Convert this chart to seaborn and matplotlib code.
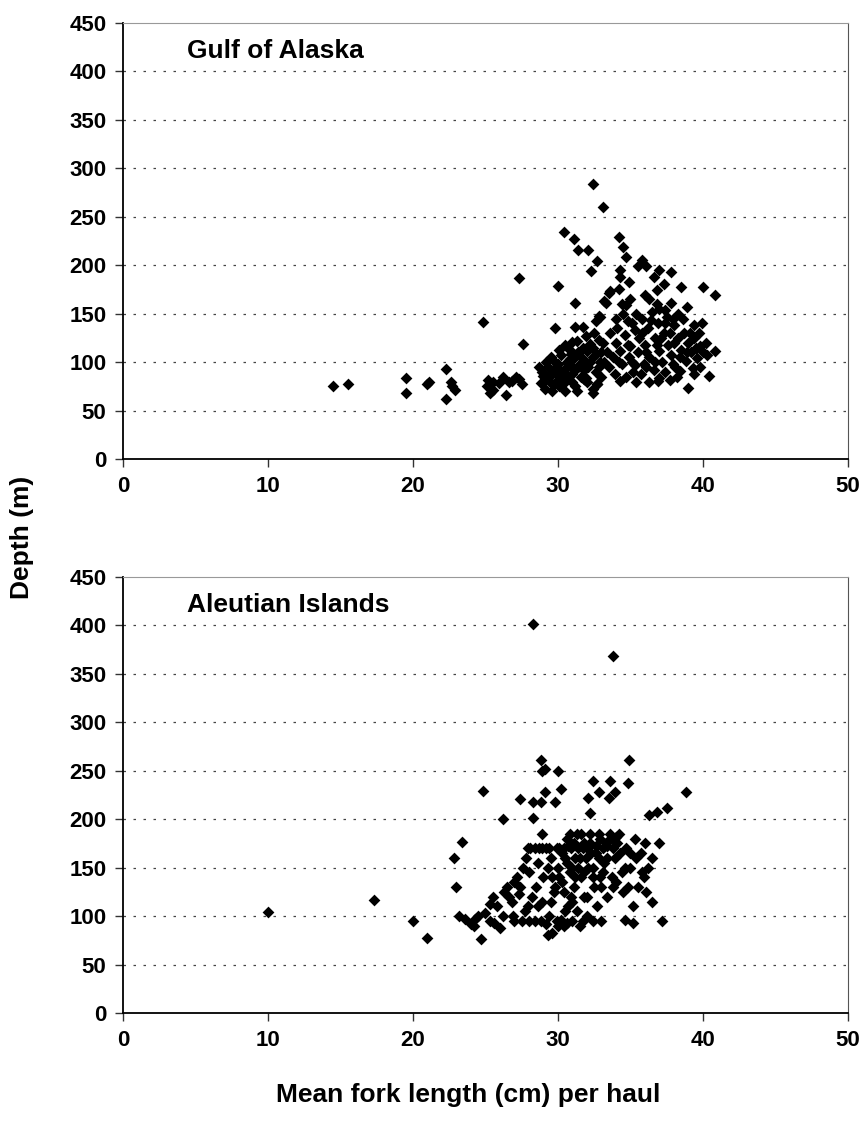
import numpy as np
import pandas as pd
import seaborn as sns
import matplotlib.pyplot as plt

# Gulf of Alaska: mean fork length (cm) and depth (m) per haul
goa_length = [
    14.5, 15.5, 19.5, 19.5, 21.1, 21.0, 22.3, 22.6, 22.9, 22.3, 22.7,
    24.8, 25.1, 25.3, 25.5, 25.9, 25.5, 25.2, 26.2, 26.4, 26.8, 27.1, 27.5, 26.6, 27.3,
    27.3, 27.6,
    28.7, 28.9, 29.0, 29.1, 29.2, 29.4, 29.5, 29.6, 29.7, 29.8, 29.9, 30.0, 30.1, 30.2,
    30.3, 30.4, 30.5, 30.6, 30.7, 30.8, 30.9, 31.0, 31.1, 31.2, 31.3, 31.4, 31.5, 31.6,
    31.8, 31.9, 32.0, 32.1, 32.2, 32.4, 32.4, 32.6, 32.7, 32.8, 32.9, 33.0,
    29.8, 30.0, 30.4, 31.1, 31.4, 32.1, 32.7, 32.3, 31.2, 32.4, 33.1, 31.7, 31.2, 31.0,
    33.3, 33.6, 32.9, 32.6, 32.8, 33.2, 31.8, 32.4, 32.7,
    34.2, 34.5, 34.7, 34.3, 34.3, 34.2, 34.9, 35.8, 35.5, 36.1, 36.6, 37.0, 37.8, 37.3,
    36.8, 38.5, 40.0, 40.8, 36.0, 34.7, 33.5, 38.9, 38.3, 37.8, 37.4, 39.4, 39.9, 40.8,
    40.3, 39.8, 40.4, 39.0, 38.4, 39.3, 39.4, 37.7, 37.0, 36.3, 34.3, 31.9,
    33.5, 33.8, 34.0, 34.1, 34.3, 34.4, 34.6, 34.8, 34.9, 35.0, 35.2, 35.3, 35.5, 35.6,
    35.8, 35.9, 36.0, 36.2, 36.3, 36.5, 36.6, 36.7, 36.9, 37.0, 37.2, 37.3, 37.5, 37.6,
    37.8, 38.0, 38.1, 38.3, 38.5, 38.7, 38.8, 39.0, 39.2, 39.4, 39.6, 39.8, 40.0, 34.5,
    35.1, 36.8, 37.9, 35.7, 36.1, 37.4, 33.9, 34.7, 35.4, 36.9, 38.2,
    29.3, 29.5, 29.8, 30.0, 30.2, 30.4, 30.6, 30.8, 31.0, 31.2, 31.4, 31.6, 31.8, 32.0,
    32.2, 32.4, 32.6, 32.8, 33.0, 33.2, 30.5, 31.3, 31.9, 30.9, 29.0, 28.8, 29.6, 30.1,
    32.5, 33.1, 33.4, 31.7,
    33.6, 34.0, 34.4, 34.8, 35.1, 35.4, 35.8, 36.1, 36.4, 36.7, 37.1, 37.4, 37.7, 38.0,
    38.4, 38.6, 39.1, 39.5, 39.7, 40.2, 35.0, 36.3, 37.0, 34.2, 35.3, 36.8, 37.9, 38.9,
]
goa_depth = [
    75, 77, 84, 68, 79, 77, 93, 80, 71, 62, 75,
    141, 75, 68, 80, 78, 71, 82, 85, 66, 81, 85, 77, 79, 83,
    187, 119,
    95, 90, 80, 72, 100, 85, 105, 70, 93, 78, 88, 98, 75, 107,
    83, 92, 70, 100, 86, 113, 96, 80, 104, 92, 70, 110, 98, 85,
    83, 100, 112, 95, 119, 72, 105, 90, 77, 123, 100, 110,
    135, 179, 234, 227, 216, 216, 204, 194, 161, 284, 260, 136, 136, 121,
    161, 173, 147, 142, 148, 163, 83, 68, 77,
    229, 219, 209, 195, 188, 176, 183, 205, 199, 199, 188, 195, 193, 181,
    174, 178, 178, 169, 169, 159, 171, 157, 150, 161, 154, 138, 140, 112,
    107, 117, 86, 73, 91, 94, 88, 82, 84, 79, 81, 84,
    95, 105, 120, 135, 112, 98, 128, 142, 105, 117, 90, 133, 110, 125,
    145, 98, 118, 135, 105, 152, 92, 125, 140, 112, 100, 130, 147, 118,
    107, 138, 95, 125, 113, 130, 101, 120, 110, 125, 104, 95, 110, 150,
    140, 160, 145, 88, 95, 90, 88, 85, 80, 81, 85,
    95, 88, 100, 82, 90, 78, 95, 103, 88, 75, 95, 105, 92, 80,
    100, 115, 108, 95, 85, 100, 118, 122, 127, 108, 86, 78, 77, 113,
    130, 120, 110, 115,
    130, 145, 160, 118, 100, 150, 130, 110, 143, 100, 125, 140, 130, 120,
    105, 145, 130, 115, 130, 120, 165, 165, 155, 100, 97, 118, 98, 110,
]

# Aleutian Islands
ai_length = [
    10.0, 17.3, 20.0, 21.0,
    22.8, 23.0, 23.4, 23.2, 23.6, 24.0, 24.2, 24.5, 24.7, 24.8, 25.0, 25.3, 25.6, 25.8,
    26.0, 25.5, 26.2, 26.3, 26.5, 26.8, 27.0, 27.2, 27.4, 27.5, 27.3, 27.6, 27.8, 27.9,
    28.0, 28.1, 28.3, 28.3, 28.3, 28.4, 28.5, 28.6, 28.7, 28.8, 28.8, 28.9, 29.1, 29.1,
    28.9, 29.0, 29.2, 29.3, 29.5, 29.6, 29.7, 29.8, 29.9, 30.0, 30.0, 30.1, 30.2, 30.3,
    30.4, 30.5, 30.6, 30.7, 30.8, 30.9, 31.0, 31.1, 31.2, 31.3, 31.4, 31.5, 31.6, 31.7,
    31.8, 31.9, 32.0, 32.1, 32.2, 32.2, 32.4, 32.4, 32.5, 32.6, 32.8, 32.8, 32.9, 33.0,
    33.1, 33.2, 33.4, 33.5, 33.6, 33.6, 33.8, 33.9, 33.9, 34.0, 34.2, 34.5, 34.6, 34.8,
    34.9, 34.7, 35.0, 35.2, 35.3, 35.5, 35.7, 35.9, 36.1, 36.3, 36.5, 36.5, 36.8, 37.0,
    37.2, 37.5, 38.8, 29.4, 30.2, 31.3, 26.9, 27.7, 29.6, 30.9, 31.8, 30.4, 31.1, 32.3,
    33.3, 34.1, 33.7, 32.7, 34.4,
    27.9, 28.4, 28.9, 29.4, 29.9, 30.4, 30.7, 31.4, 32.0, 32.6, 33.4, 33.8,
    27.0, 28.0, 28.8, 30.6, 31.7, 32.4, 29.2, 30.0,
    30.3, 30.6, 31.0, 31.2, 31.5, 31.8, 32.1, 32.4, 32.8, 33.1, 33.4, 33.6, 34.0, 34.3,
    34.6, 35.0, 35.4, 35.8, 30.8, 31.6, 32.2, 32.9, 29.8, 30.1, 28.2, 28.6, 27.4, 26.6,
    29.3, 28.9, 26.2, 25.3, 24.3, 36.0, 36.2, 31.0, 32.0, 33.0, 33.8, 34.8, 35.2, 30.5,
    29.5,
]
ai_depth = [
    104, 117, 95, 77,
    160, 130, 176, 100, 97, 92, 90, 100, 76, 229, 103, 112, 93, 110,
    88, 120, 200, 125, 130, 115, 135, 140, 221, 95, 123, 150, 160, 110,
    145, 170, 218, 201, 401, 95, 130, 155, 170, 261, 218, 250, 252, 228,
    115, 140, 170, 80, 160, 82, 125, 218, 95, 250, 150, 170, 231, 135,
    90, 160, 180, 110, 145, 170, 95, 130, 160, 185, 150, 90, 140, 170,
    120, 160, 100, 222, 206, 175, 239, 150, 130, 165, 228, 185, 140, 95,
    170, 155, 120, 222, 239, 180, 368, 228, 160, 135, 185, 125, 96, 237,
    261, 170, 150, 93, 180, 130, 165, 140, 125, 204, 160, 115, 207, 175,
    95, 212, 228, 100, 96, 105, 100, 105, 140, 120, 145, 125, 175, 165,
    175, 175, 140, 110, 145,
    170, 170, 170, 170, 170, 170, 172, 170, 170, 172, 172, 170,
    95, 95, 95, 93, 95, 95, 92, 90,
    165, 155, 150, 140, 160, 175, 150, 140, 160, 145, 160, 185, 182, 165,
    150, 165, 160, 145, 185, 185, 185, 180, 130, 140, 120, 110, 130, 120,
    150, 185, 100, 95, 97, 175, 150, 115, 120, 130, 130, 130, 110, 105,
    115,
]

panels = [
    ("Gulf of Alaska", goa_length, goa_depth),
    ("Aleutian Islands", ai_length, ai_depth),
]

sns.set_style("white")
plt.rcParams["font.family"] = ["Liberation Sans", "DejaVu Sans"]
plt.rcParams["font.weight"] = "bold"
plt.rcParams["text.color"] = "black"

fig = plt.figure(figsize=(8.63, 11.24), dpi=100)
axes = [
    fig.add_axes([0.1425, 0.5916, 0.8401, 0.3879]),
    fig.add_axes([0.1425, 0.0988, 0.8401, 0.3879]),
]

for ax, (name, x, y) in zip(axes, panels):
    df = pd.DataFrame({"length": x, "depth": y})
    for g in range(50, 450, 50):
        ax.axhline(g, color="#444444", linestyle=(0, (2, 6)), linewidth=0.9, zorder=0)
    sns.scatterplot(data=df, x="length", y="depth", marker="D", color="black",
                    s=36, linewidth=0, ax=ax, zorder=3)
    ax.set_xlim(0, 50)
    ax.set_ylim(0, 450)
    ax.set_xticks(range(0, 51, 10))
    ax.set_yticks(range(0, 451, 50))
    ax.tick_params(axis="both", direction="out", length=6, width=1, labelsize=16,
                   color="#333333", labelcolor="black", pad=6, left=True, bottom=True)
    for lab in ax.get_xticklabels() + ax.get_yticklabels():
        lab.set_fontweight("bold")
    ax.set_xlabel("")
    ax.set_ylabel("")
    ax.spines["left"].set_color("black")
    ax.spines["bottom"].set_color("black")
    ax.spines["left"].set_linewidth(1.3)
    ax.spines["bottom"].set_linewidth(1.3)
    ax.spines["top"].set_color("#999999")
    ax.spines["right"].set_color("#555555")
    ax.text(4.4, 421, name, fontsize=19, fontweight="bold", ha="left", va="center")

fig.text(0.025, 0.522, "Depth (m)", rotation=90, fontsize=19, fontweight="bold",
         ha="center", va="center")
fig.text(0.5425, 0.026, "Mean fork length (cm) per haul", fontsize=19,
         fontweight="bold", ha="center", va="center")

fig.savefig("out.png", dpi=100, facecolor="white")
